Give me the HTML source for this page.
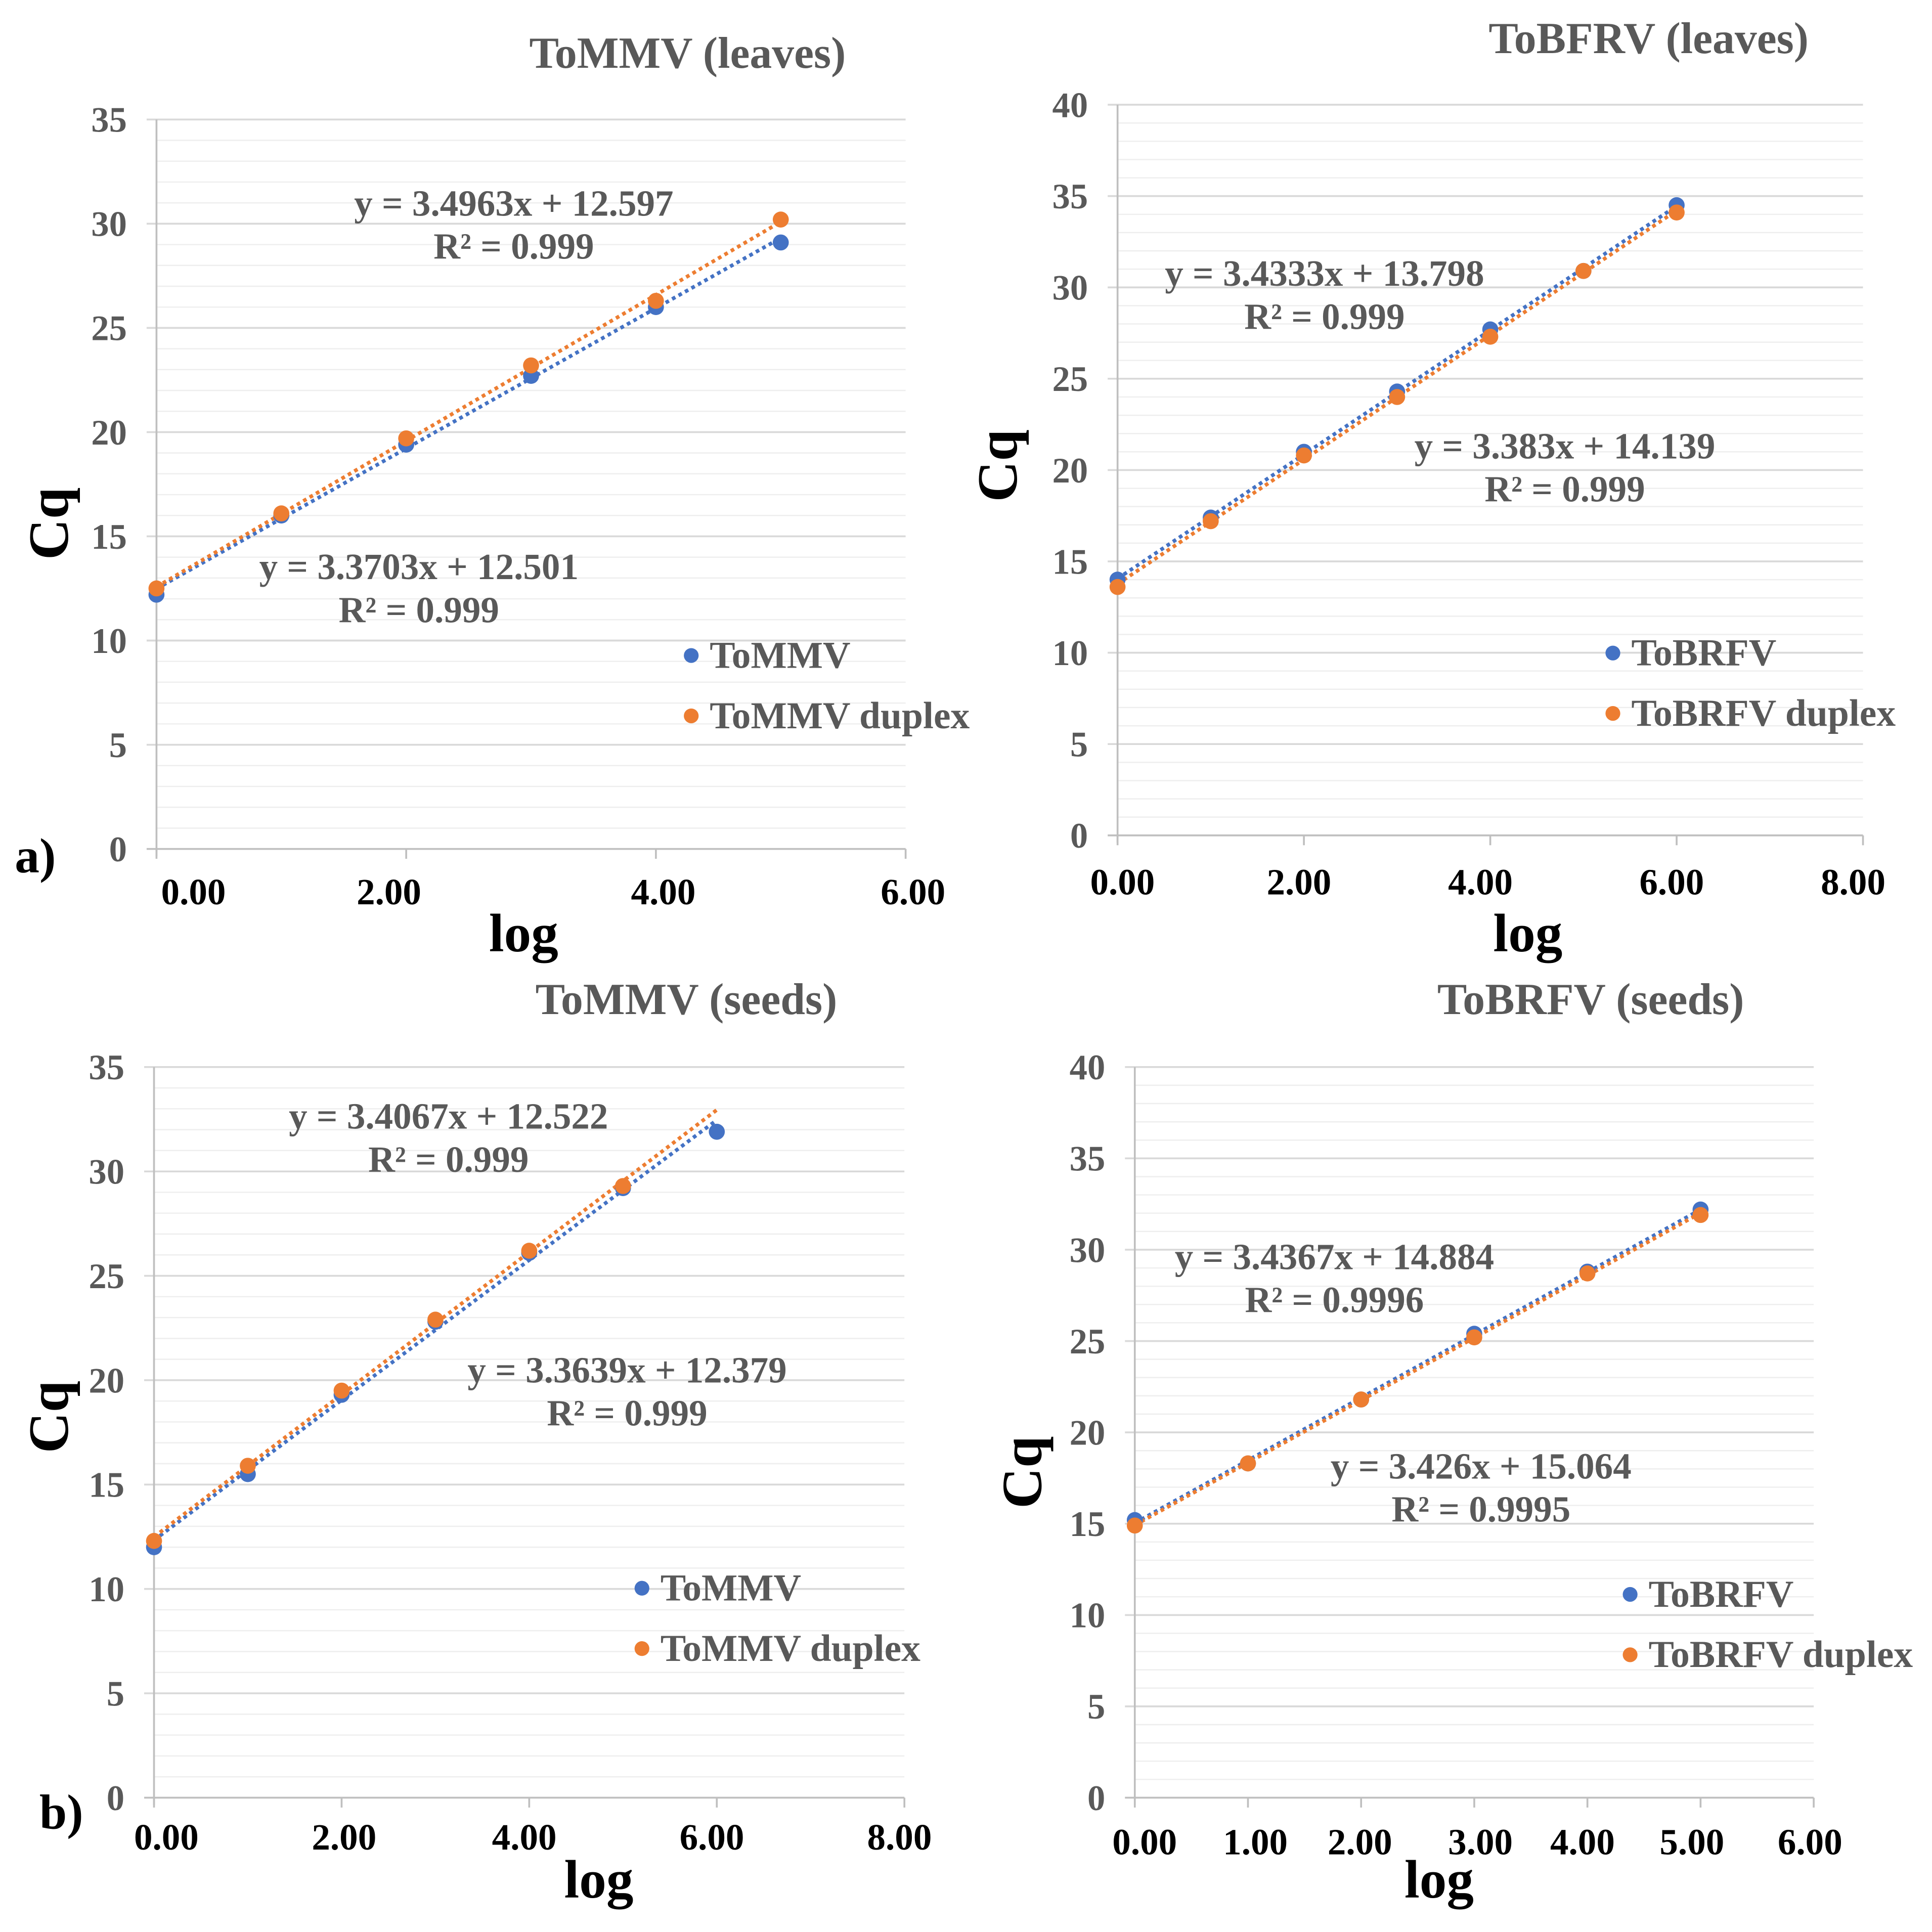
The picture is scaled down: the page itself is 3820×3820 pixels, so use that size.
<!DOCTYPE html>
<html><head><meta charset="utf-8"><style>
html,body{margin:0;padding:0;background:#fff;}
svg{display:block;}
text{font-family:"Liberation Serif",serif;font-weight:bold;}
</style></head><body>
<svg id="s" width="3820" height="3820" viewBox="0 0 1568 1568" xmlns="http://www.w3.org/2000/svg"></svg>
<script>
// Chart A: ToMMV (leaves)
const aX = [0,1,2,3,4,5];
const aBlue = [12.2,16.0,19.4,22.7,26.0,29.1];
const aOrange = [12.5,16.1,19.7,23.2,26.3,30.2];
const aXTicks = ["0.00","2.00","4.00","6.00"];
const aYTicks = [0,5,10,15,20,25,30,35];
// Chart B: ToBRFV (leaves)
const bX = [0,1,2,3,4,5,6];
const bBlue = [14.0,17.4,21.0,24.3,27.7,30.9,34.5];
const bOrange = [13.6,17.2,20.8,24.0,27.3,30.9,34.1];
const bXTicks = ["0.00","2.00","4.00","6.00","8.00"];
const bYTicks = [0,5,10,15,20,25,30,35,40];
// Chart C: ToMMV (seeds)
const cX = [0,1,2,3,4,5,6];
const cBlue = [12.0,15.5,19.3,22.8,26.1,29.2,31.9];
const cOrangeX = [0,1,2,3,4,5];
const cOrange = [12.3,15.9,19.5,22.9,26.2,29.3];
const cXTicks = ["0.00","2.00","4.00","6.00","8.00"];
const cYTicks = [0,5,10,15,20,25,30,35];
// Chart D: ToBRFV (seeds)
const dX = [0,1,2,3,4,5];
const dBlue = [15.2,18.3,21.8,25.4,28.8,32.2];
const dOrange = [14.9,18.3,21.8,25.2,28.7,31.9];
const dXTicks = ["0.00","1.00","2.00","3.00","4.00","5.00","6.00"];
const dYTicks = [0,5,10,15,20,25,30,35,40];

const NS="http://www.w3.org/2000/svg";
const svg=document.getElementById('s');
function el(t,a,p){const e=document.createElementNS(NS,t);for(const k in a)e.setAttribute(k,a[k]);(p||svg).appendChild(e);return e;}
function fit(xs,ys){const n=xs.length;let mx=0,my=0;for(let i=0;i<n;i++){mx+=xs[i];my+=ys[i];}mx/=n;my/=n;let sxy=0,sxx=0;for(let i=0;i<n;i++){sxy+=(xs[i]-mx)*(ys[i]-my);sxx+=(xs[i]-mx)**2;}const m=sxy/sxx;return [m,my-m*mx];}

function chart(c){
  const g=el('g',{});
  
  
  const X=v=>c.x0+(v-c.xmin)/(c.xmax-c.xmin)*(c.x1-c.x0);
  const Y=v=>c.y0-(v-c.ymin)/(c.ymax-c.ymin)*(c.y0-c.y1);
  const ymax=c.yTicks[c.yTicks.length-1];
  for(let v=0;v<=ymax;v+=1){
    if(v%5===0)continue;
    const l=el('line',{x1:c.x0,x2:c.x1,y1:Y(v),y2:Y(v),stroke:'#eeeeee','stroke-width':1},g);
    
  }
  c.yTicks.forEach(v=>{
    const l=el('line',{x1:c.x0-8,x2:c.x1,y1:Y(v),y2:Y(v),stroke:v===0?'#bfbfbf':'#d9d9d9','stroke-width':1.5},g);
    
    const t=el('text',{x:c.x0-24,y:Y(v)+10,'text-anchor':'end','font-size':29,fill:'#595959'},g);
    t.textContent=v;
  });
  const ax=el('line',{x1:c.x0,x2:c.x0,y1:c.y1,y2:c.y0+6,stroke:'#bfbfbf','stroke-width':1.5},g);
  
  c.xTicks.forEach((s,i)=>{
    const v=parseFloat(s);
    const tk=el('line',{x1:X(v),x2:X(v),y1:c.y0,y2:c.y0+8,stroke:'#bfbfbf','stroke-width':1.5},g);
    
    const t=el('text',{x:X(v)+(c.xoff?c.xoff[i]:0),y:c.y0+c.xly,'text-anchor':'middle','font-size':30,fill:'#000'},g);
    t.textContent=s;
  });
  [[c.bx,c.blue,'#4472C4','blue-trendline',c.bEnd],[c.ox,c.orange,'#ED7D31','orange-trendline',c.oEnd]].forEach(([xs,ys,col,nm,end])=>{
    const [m,b]=fit(xs,ys);const xe=end!==undefined?end:xs[xs.length-1];
    const l=el('line',{x1:X(xs[0]),y1:Y(b+m*xs[0]),x2:X(xe),y2:Y(b+m*xe),stroke:col,'stroke-width':3,'stroke-dasharray':'3 3'},g);
    
  });
  [[c.bx,c.blue,'#4472C4','blue-point'],[c.ox,c.orange,'#ED7D31','orange-point']].forEach(([xs,ys,col,nm])=>{
    xs.forEach((x,i)=>{
      const p=el('circle',{cx:X(x),cy:Y(ys[i]),r:6.5,fill:col},g);
      
    });
  });
  function txt(s,x,y,sz,fill,name,anchor,extra){
    const t=el('text',Object.assign({x:x,y:y,'font-size':sz,fill:fill,'text-anchor':anchor||'middle'},extra||{}),g);
    t.textContent=s;return t;
  }
  txt(c.title,c.tx,c.ty,36,'#595959','chart-title');
  c.eq.forEach(e=>{txt(e[0],e[2],e[3],30,'#595959','trendline-equation');txt(e[1],e[2],e[3]+35,30,'#595959','r-squared-label');});
  const lg=[['#4472C4',c.leg[0]],['#ED7D31',c.leg[1]]];
  lg.forEach((L,i)=>{
    const d=el('circle',{cx:c.lx,cy:c.ly+i*49,r:6,fill:L[0]},g);
    
    txt(L[1],c.lx+15,c.ly+i*49+10,31,'#595959','legend-entry','start');
  });
  txt('log',c.logx,c.logy,44,'#000','x-axis-title');
  txt('Cq',0,0,46,'#000','y-axis-title','middle',{transform:`translate(${c.cqx},${c.cqy}) rotate(-90)`});
}

chart({name:'chart-tommv-leaves',x0:127,x1:735,xmin:0,xmax:6,y0:689,y1:97,ymin:0,ymax:35,
  xTicks:aXTicks,yTicks:aYTicks,xoff:[30,-14,6,6],xly:45,bx:aX,blue:aBlue,ox:aX,orange:aOrange,
  title:'ToMMV (leaves)',tx:558,ty:55,
  eq:[['y = 3.4963x + 12.597','R² = 0.999',417,175],['y = 3.3703x + 12.501','R² = 0.999',340,470]],
  leg:['ToMMV','ToMMV duplex'],lx:561,ly:532,logx:425,logy:772,cqx:55,cqy:425});
chart({name:'chart-tobrfv-leaves',x0:907,x1:1512,xmin:0,xmax:8,y0:678,y1:85,ymin:0,ymax:40,
  xTicks:bXTicks,yTicks:bYTicks,xoff:[4,-4,-8,-4,-8],xly:48,bx:bX,blue:bBlue,ox:bX,orange:bOrange,
  title:'ToBFRV (leaves)',tx:1338,ty:43,
  eq:[['y = 3.4333x + 13.798','R² = 0.999',1075,232],['y = 3.383x + 14.139','R² = 0.999',1270,372]],
  leg:['ToBRFV','ToBRFV duplex'],lx:1309,ly:530,logx:1240,logy:772,cqx:825,cqy:378});
chart({name:'chart-tommv-seeds',x0:125,x1:734,xmin:0,xmax:8,y0:1459,y1:866,ymin:0,ymax:35,
  xTicks:cXTicks,yTicks:cYTicks,xoff:[10,2,-4,-4,-4],xly:42,bx:cX,blue:cBlue,ox:cOrangeX,orange:cOrange,oEnd:6,
  title:'ToMMV (seeds)',tx:557,ty:823,
  eq:[['y = 3.4067x + 12.522','R² = 0.999',364,916],['y = 3.3639x + 12.379','R² = 0.999',509,1122]],
  leg:['ToMMV','ToMMV duplex'],lx:521,ly:1289,logx:486,logy:1540,cqx:55,cqy:1150});
chart({name:'chart-tobrfv-seeds',x0:921,x1:1472,xmin:0,xmax:6,y0:1459,y1:866,ymin:0,ymax:40,
  xTicks:dXTicks,yTicks:dYTicks,xoff:[8,6,-1,5,-4,-7,-3],xly:46,bx:dX,blue:dBlue,ox:dX,orange:dOrange,
  title:'ToBRFV (seeds)',tx:1291,ty:823,
  eq:[['y = 3.4367x + 14.884','R² = 0.9996',1083,1030],['y = 3.426x + 15.064','R² = 0.9995',1202,1200]],
  leg:['ToBRFV','ToBRFV duplex'],lx:1323,ly:1294,logx:1168,logy:1540,cqx:845,cqy:1195});

function lab(s,x,y){const t=el('text',{x:x,y:y,'font-size':40,fill:'#000'});t.textContent=s;
  }
lab('a)',12,708);lab('b)',32,1484);
</script>
</body></html>
